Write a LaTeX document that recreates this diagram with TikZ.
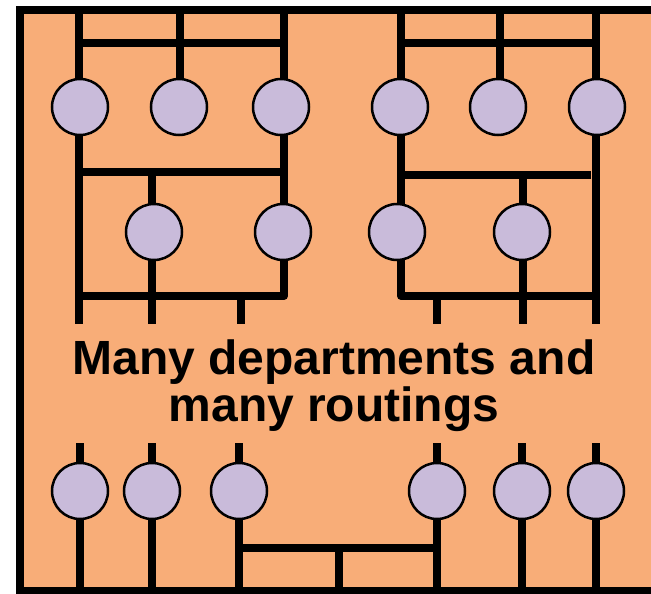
\documentclass[tikz,border=0pt]{standalone}
\usepackage{fontspec}
\setmainfont{Liberation Sans}
\definecolor{bgorange}{RGB}{248,173,120}
\definecolor{dept}{RGB}{201,187,218}
\begin{document}
\begin{tikzpicture}[x=1pt,y=-1pt,
  route/.style={line width=8pt,line join=round},
  dept/.style={circle,draw=black,line width=2.5pt,fill=dept,minimum size=56pt,inner sep=0pt},
  label/.style={font=\fontsize{48}{48}\selectfont\bfseries,anchor=base,inner sep=0pt}]
\useasboundingbox (0,0) rectangle (651,594);
\fill[bgorange] (20,10) rectangle (660,591);
\draw[line width=8pt,line join=miter] (660,10) -- (20,10) -- (20,591) -- (660,591);

% ---------- top-left group ----------
\coordinate (a1t) at (79,10);  \coordinate (a1b) at (79,324);
\coordinate (a2t) at (180,10); \coordinate (a2b) at (180,107);
\coordinate (a3t) at (284,10); \coordinate (a3b) at (284,296);
\coordinate (ah1l) at (79,43);  \coordinate (ah1r) at (284,43);
\coordinate (ah2l) at (79,172); \coordinate (ah2r) at (284,172);
\coordinate (a4t) at (152,172); \coordinate (a4b) at (152,324);
\coordinate (ah3l) at (79,296);
\coordinate (a5t) at (241,296); \coordinate (a5b) at (241,324);
\draw[route] (a1t) -- (a1b);
\draw[route] (a2t) -- (a2b);
\draw[route] (a3t) -- (a3b) -- (ah3l);
\draw[route] (ah1l) -- (ah1r);
\draw[route] (ah2l) -- (ah2r);
\draw[route] (a4t) -- (a4b);
\draw[route] (a5t) -- (a5b);

% ---------- top-right group ----------
\coordinate (b1t) at (401,10);  \coordinate (b1b) at (401,296);
\coordinate (b2t) at (500,10);  \coordinate (b2b) at (500,107);
\coordinate (b3t) at (596,10);  \coordinate (b3b) at (596,324);
\coordinate (bh1l) at (401,43); \coordinate (bh1r) at (596,43);
\coordinate (bh2l) at (401,175); \coordinate (bh2r) at (591,175);
\coordinate (b4t) at (523,175); \coordinate (b4b) at (523,324);
\coordinate (bh3r) at (596,296);
\coordinate (b5t) at (437,296); \coordinate (b5b) at (437,324);
\draw[route] (b1t) -- (b1b) -- (bh3r);
\draw[route] (b2t) -- (b2b);
\draw[route] (b3t) -- (b3b);
\draw[route] (bh1l) -- (bh1r);
\draw[route] (bh2l) -- (bh2r);
\draw[route] (b4t) -- (b4b);
\draw[route] (b5t) -- (b5b);

% ---------- bottom group ----------
\foreach \n/\x in {1/80,2/152,3/239,4/437,5/522,6/596}{
  \coordinate (c\n t) at (\x,443);
  \coordinate (c\n b) at (\x,591);
  \draw[route] (c\n t) -- (c\n b);
}
\coordinate (ch1l) at (239,548); \coordinate (ch1r) at (437,548);
\coordinate (cmt) at (339,548); \coordinate (cmb) at (339,591);
\draw[route] (ch1l) -- (ch1r);
\draw[route] (cmt) -- (cmb);

% ---------- departments ----------
\node[dept] (p1) at (80,107) {};
\node[dept] (p2) at (179,107) {};
\node[dept] (p3) at (281,107) {};
\node[dept] (p4) at (154,232) {};
\node[dept] (p5) at (283,232) {};
\node[dept] (q1) at (400,107) {};
\node[dept] (q2) at (498,107) {};
\node[dept] (q3) at (597,107) {};
\node[dept] (q4) at (397,232) {};
\node[dept] (q5) at (522,232) {};
\foreach \n/\x in {1/80,2/152,3/239,4/437,5/522,6/596}{
  \node[dept] (r\n) at (\x,491) {};
}

% ---------- label ----------
\node[label] (t1) at (334,374) {Many departments and};
\node[label] (t2) at (334,421) {many routings};
\end{tikzpicture}
\end{document}
